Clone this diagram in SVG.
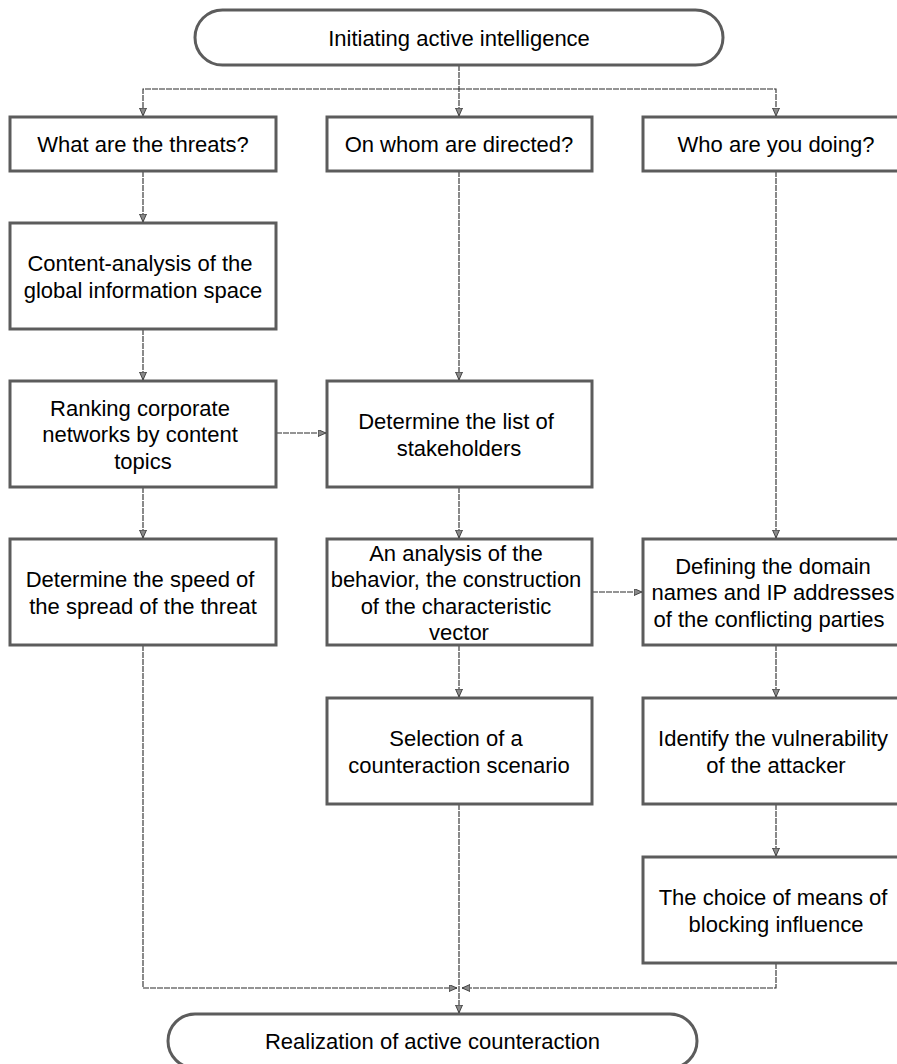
<svg xmlns="http://www.w3.org/2000/svg" width="897" height="1064" viewBox="0 0 897 1064">
<style>
.box{fill:#fff;stroke:#5c5c5c;stroke-width:3}
.edge{fill:none;stroke:#2a2a2a;stroke-width:1.1;stroke-dasharray:6 1}
text{font-family:"Liberation Sans",Arial,sans-serif;font-size:22px;fill:#000;text-anchor:middle}
</style>
<defs>
<marker id="arr" markerUnits="userSpaceOnUse" markerWidth="9" markerHeight="8" refX="8" refY="3.5" orient="auto">
<path d="M0,0 L8,3.5 L0,7 z" fill="#8a8a8a" stroke="#2a2a2a" stroke-width="0.8"/>
</marker>
</defs>
<rect width="897" height="1064" fill="#fff"/>
<g id="connectors">
<path class="edge" d="M459,65 V116" marker-end="url(#arr)"/>
<path class="edge" d="M459,89 H143 V116" marker-end="url(#arr)"/>
<path class="edge" d="M459,89 H776 V116" marker-end="url(#arr)"/>
<path class="edge" d="M143,171 V222" marker-end="url(#arr)"/>
<path class="edge" d="M143,329 V380" marker-end="url(#arr)"/>
<path class="edge" d="M143,487 V538" marker-end="url(#arr)"/>
<path class="edge" d="M143,645 V988 H457" marker-end="url(#arr)"/>
<path class="edge" d="M459,171 V380" marker-end="url(#arr)"/>
<path class="edge" d="M459,487 V538" marker-end="url(#arr)"/>
<path class="edge" d="M459,645 V697" marker-end="url(#arr)"/>
<path class="edge" d="M459,804 V1013" marker-end="url(#arr)"/>
<path class="edge" d="M776,171 V538" marker-end="url(#arr)"/>
<path class="edge" d="M776,645 V697" marker-end="url(#arr)"/>
<path class="edge" d="M776,804 V856" marker-end="url(#arr)"/>
<path class="edge" d="M776,963 V988 H462" marker-end="url(#arr)"/>
<path class="edge" d="M276,433 H326" marker-end="url(#arr)"/>
<path class="edge" d="M592,592 H642" marker-end="url(#arr)"/>
</g>
<g id="start">
<rect class="box" x="195" y="10" width="528" height="55" rx="27.5"/>
<text x="459" y="45.5">Initiating active intelligence</text>
</g>
<g id="q1">
<rect class="box" x="10" y="117" width="266" height="54"/>
<text x="143" y="152">What are the threats?</text>
</g>
<g id="q2">
<rect class="box" x="327" y="117" width="265" height="54"/>
<text x="459" y="152">On whom are directed?</text>
</g>
<g id="q3">
<rect class="box" x="643" y="117" width="266" height="54"/>
<text x="776" y="152">Who are you doing?</text>
</g>
<g id="content">
<rect class="box" x="10" y="223" width="266" height="106"/>
<text x="140" y="271">Content-analysis of the</text>
<text x="143" y="297.5">global information space</text>
</g>
<g id="ranking">
<rect class="box" x="10" y="381" width="266" height="106"/>
<text x="140" y="415.5">Ranking corporate</text>
<text x="140" y="442">networks by content</text>
<text x="143" y="468.5">topics</text>
</g>
<g id="stakeholders">
<rect class="box" x="327" y="381" width="265" height="106"/>
<text x="456" y="429">Determine the list of</text>
<text x="459" y="455.5">stakeholders</text>
</g>
<g id="speed">
<rect class="box" x="10" y="539" width="266" height="106"/>
<text x="140" y="587">Determine the speed of</text>
<text x="143" y="613.5">the spread of the threat</text>
</g>
<g id="analysis">
<rect class="box" x="327" y="539" width="265" height="106"/>
<text x="456" y="560.5">An analysis of the</text>
<text x="456" y="587">behavior, the construction</text>
<text x="456" y="613.5">of the characteristic</text>
<text x="459" y="640">vector</text>
</g>
<g id="domains">
<rect class="box" x="643" y="539" width="266" height="106"/>
<text x="773" y="573.5">Defining the domain</text>
<text x="773" y="600">names and IP addresses</text>
<text x="769" y="626.5">of the conflicting parties</text>
</g>
<g id="scenario">
<rect class="box" x="327" y="698" width="265" height="106"/>
<text x="456" y="746">Selection of a</text>
<text x="459" y="772.5">counteraction scenario</text>
</g>
<g id="vulnerability">
<rect class="box" x="643" y="698" width="266" height="106"/>
<text x="773" y="746">Identify the vulnerability</text>
<text x="776" y="772.5">of the attacker</text>
</g>
<g id="blocking">
<rect class="box" x="643" y="857" width="266" height="106"/>
<text x="773" y="905">The choice of means of</text>
<text x="776" y="931.5">blocking influence</text>
</g>
<g id="end">
<rect class="box" x="168" y="1014" width="529" height="54" rx="27"/>
<text x="432.5" y="1049">Realization of active counteraction</text>
</g>
</svg>
